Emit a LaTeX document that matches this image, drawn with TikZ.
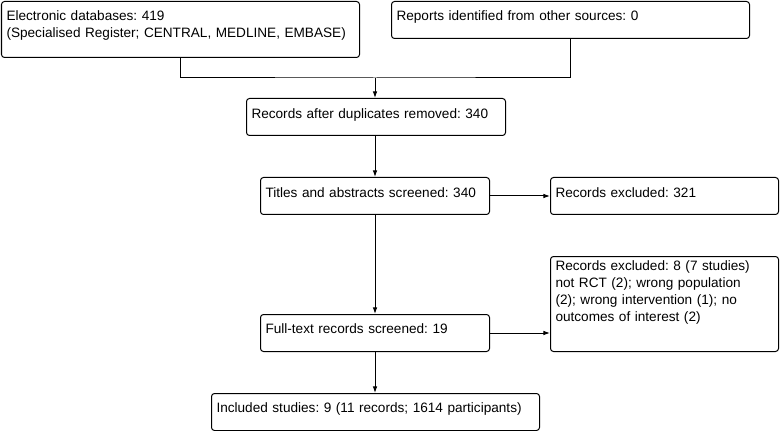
\documentclass[tikz,border=0pt]{standalone}
\usepackage{fontspec}
\setmainfont{Liberation Sans}
\usetikzlibrary{arrows.meta}

\tikzset{
  flowbox/.style={draw, rounded corners=2.25pt, anchor=north west, align=left,
    inner xsep=3.75pt, inner ysep=0pt, line width=0.75pt,
    font=\fontsize{10.2pt}{12.75pt}\selectfont\frenchspacing},
  flowline/.style={line width=0.75pt}
}

\begin{document}
\begin{tikzpicture}[x=0.75pt, y=-0.75pt, >={Latex[length=5pt,width=3.5pt]}]
  \useasboundingbox (0,0) rectangle (782,431);

  % Sources
  \node[flowbox, text width=261pt, text height=14.25pt, text depth=27.75pt] (db) at (1,1)
    {Electronic databases: 419\\(Specialised Register; CENTRAL, MEDLINE, EMBASE)};
  \node[flowbox, text width=261pt, text height=14.25pt, text depth=13.5pt] (other) at (391,1)
    {Reports identified from other sources: 0};

  % Screening steps
  \node[flowbox, text width=186.75pt, text height=15pt, text depth=12.75pt] (dup) at (246,98)
    {Records after duplicates removed: 340};
  \node[flowbox, text width=164.25pt, text height=15pt, text depth=12.75pt] (title) at (260,177)
    {Titles and abstracts screened: 340};
  \node[flowbox, text width=163.5pt, text height=15pt, text depth=12.75pt] (excl1) at (550,177)
    {Records excluded: 321};
  \node[flowbox, text width=163.5pt, text height=10.5pt, text depth=60.75pt] (excl2) at (550,256)
    {Records excluded: 8 (7 studies)\\not RCT (2); wrong population\\(2); wrong intervention (1); no\\outcomes of interest (2)};
  \node[flowbox, text width=164.25pt, text height=14.25pt, text depth=13.5pt] (full) at (260,314)
    {Full-text records screened: 19};
  \node[flowbox, text width=238.5pt, text height=14.25pt, text depth=13.5pt] (incl) at (211,393)
    {Included studies: 9 (11 records; 1614 participants)};

  % Connectors
  \coordinate (join) at (375,78);
  \draw[flowline] (db.south) |- (join) -| (other.south);
  \draw[flowline, ->] (join) -- (join |- dup.north);
  \draw[flowline, ->] (join |- dup.south) -- (join |- title.north);
  \draw[flowline, ->] (title.east) -- (excl1.west);
  \draw[flowline, ->] (join |- title.south) -- (join |- full.north);
  \draw[flowline, ->] (full.east) -- (full.east -| excl2.west);
  \draw[flowline, ->] (join |- full.south) -- (join |- incl.north);
\end{tikzpicture}
\end{document}
